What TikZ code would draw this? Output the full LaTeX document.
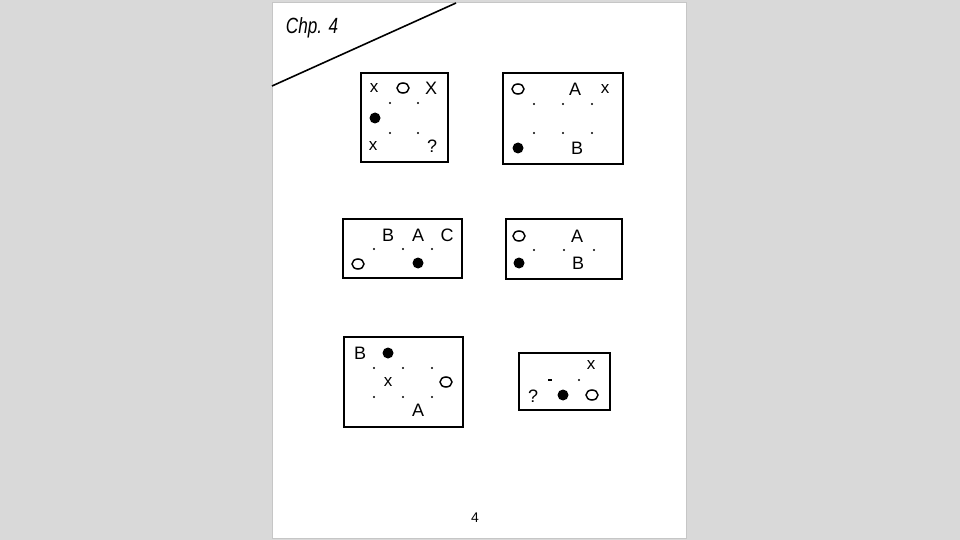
\documentclass[tikz,border=0pt]{standalone}
\usepackage{fontspec}
\setmainfont{Liberation Sans}
\usetikzlibrary{shapes.geometric}
\begin{document}
\begin{tikzpicture}[x=1pt,y=-1pt,
  board/.style={draw, line width=1.8pt, inner sep=0pt},
  stone/.style={circle, fill=black, inner sep=0pt, minimum size=11pt},
  wstone/.style={ellipse, draw, line width=1.5pt, inner sep=0pt, minimum width=12pt, minimum height=10pt},
  pt/.style={circle, fill=black, inner sep=0pt, minimum size=2.2pt},
  lbl/.style={inner sep=0pt, font=\fontsize{18}{18}\selectfont},
  sml/.style={inner sep=0pt, font=\fontsize{17}{17}\selectfont},
  ]
\useasboundingbox (0,0) rectangle (960,540);
\fill[gray!30] (0,0) rectangle (960,540);
\node[fill=white, draw=gray!45, line width=0.8pt, minimum width=414pt, minimum height=536pt, inner sep=0pt] (page) at (479,270) {};
% corner line and chapter title
\coordinate (cl) at (272,86);
\coordinate (cr) at (456,3);
\draw[line width=1.6pt] (cl) -- (cr);
\node[inner sep=0pt, xscale=0.78, font=\fontsize{22}{22}\selectfont\itshape] (chp) at (312,28) {Chp. 4};

% Board 1
\node[board, minimum width=87pt, minimum height=89pt] (b1) at (404.5,117.5) {};
\node[sml] (b1x1) at (374,88) {x};
\node[wstone] (b1o1) at (403,88) {};
\node[lbl] (b1x2) at (431,88) {X};
\node[pt] (b1p1) at (390,103) {};
\node[pt] (b1p2) at (418,103) {};
\node[stone] (b1s1) at (375,118) {};
\node[pt] (b1p3) at (390,133) {};
\node[pt] (b1p4) at (418,133) {};
\node[sml] (b1x3) at (373,146) {x};
\node[lbl] (b1q) at (432,146) {?};

% Board 2
\node[board, minimum width=120pt, minimum height=91pt] (b2) at (563,118.5) {};
\node[wstone] (b2o1) at (518,89) {};
\node[lbl] (b2a) at (575,89) {A};
\node[sml] (b2x) at (605,89) {x};
\node[pt] (b2p1) at (534,104) {};
\node[pt] (b2p2) at (563,104) {};
\node[pt] (b2p3) at (592,104) {};
\node[pt] (b2p4) at (534,133) {};
\node[pt] (b2p5) at (563,133) {};
\node[pt] (b2p6) at (592,133) {};
\node[stone] (b2s) at (518,148) {};
\node[lbl] (b2b) at (577,148) {B};

% Board 3
\node[board, minimum width=119pt, minimum height=59pt] (b3) at (402.5,248.5) {};
\node[lbl] (b3b) at (388,235) {B};
\node[lbl] (b3a) at (418,235) {A};
\node[lbl] (b3c) at (447,235) {C};
\node[pt] (b3p1) at (374,249) {};
\node[pt] (b3p2) at (403,249) {};
\node[pt] (b3p3) at (432,249) {};
\node[wstone] (b3o) at (358,264) {};
\node[stone] (b3s) at (418,263) {};

% Board 4
\node[board, minimum width=116pt, minimum height=60pt] (b4) at (564,249) {};
\node[wstone] (b4o) at (519,236) {};
\node[lbl] (b4a) at (577,236) {A};
\node[pt] (b4p1) at (534,250) {};
\node[pt] (b4p2) at (564,250) {};
\node[pt] (b4p3) at (594,250) {};
\node[stone] (b4s) at (519,263) {};
\node[lbl] (b4b) at (578,263) {B};

% Board 5
\node[board, minimum width=119pt, minimum height=90pt] (b5) at (403.5,382) {};
\node[lbl] (b5b) at (360,353) {B};
\node[stone] (b5s) at (388,353) {};
\node[pt] (b5p1) at (374,368) {};
\node[pt] (b5p2) at (403,368) {};
\node[pt] (b5p3) at (432,368) {};
\node[sml] (b5x) at (388,382) {x};
\node[wstone] (b5o) at (446,382) {};
\node[pt] (b5p4) at (374,397) {};
\node[pt] (b5p5) at (403,397) {};
\node[pt] (b5p6) at (432,397) {};
\node[lbl] (b5a) at (418,410) {A};

% Board 6
\node[board, minimum width=91pt, minimum height=57pt] (b6) at (564.5,381.5) {};
\node[sml] (b6x) at (591,365) {x};
\node[minimum width=3.5pt, minimum height=1.5pt, inner sep=0pt, fill=black] (b6p1) at (550,380) {};
\node[pt] (b6p2) at (579,380) {};
\node[lbl] (b6q) at (533,396) {?};
\node[stone] (b6s) at (563,395) {};
\node[wstone] (b6o) at (592,395) {};

% page number
\node[inner sep=0pt, font=\fontsize{14}{14}\selectfont] (pnum) at (475,518) {4};
\end{tikzpicture}
\end{document}
